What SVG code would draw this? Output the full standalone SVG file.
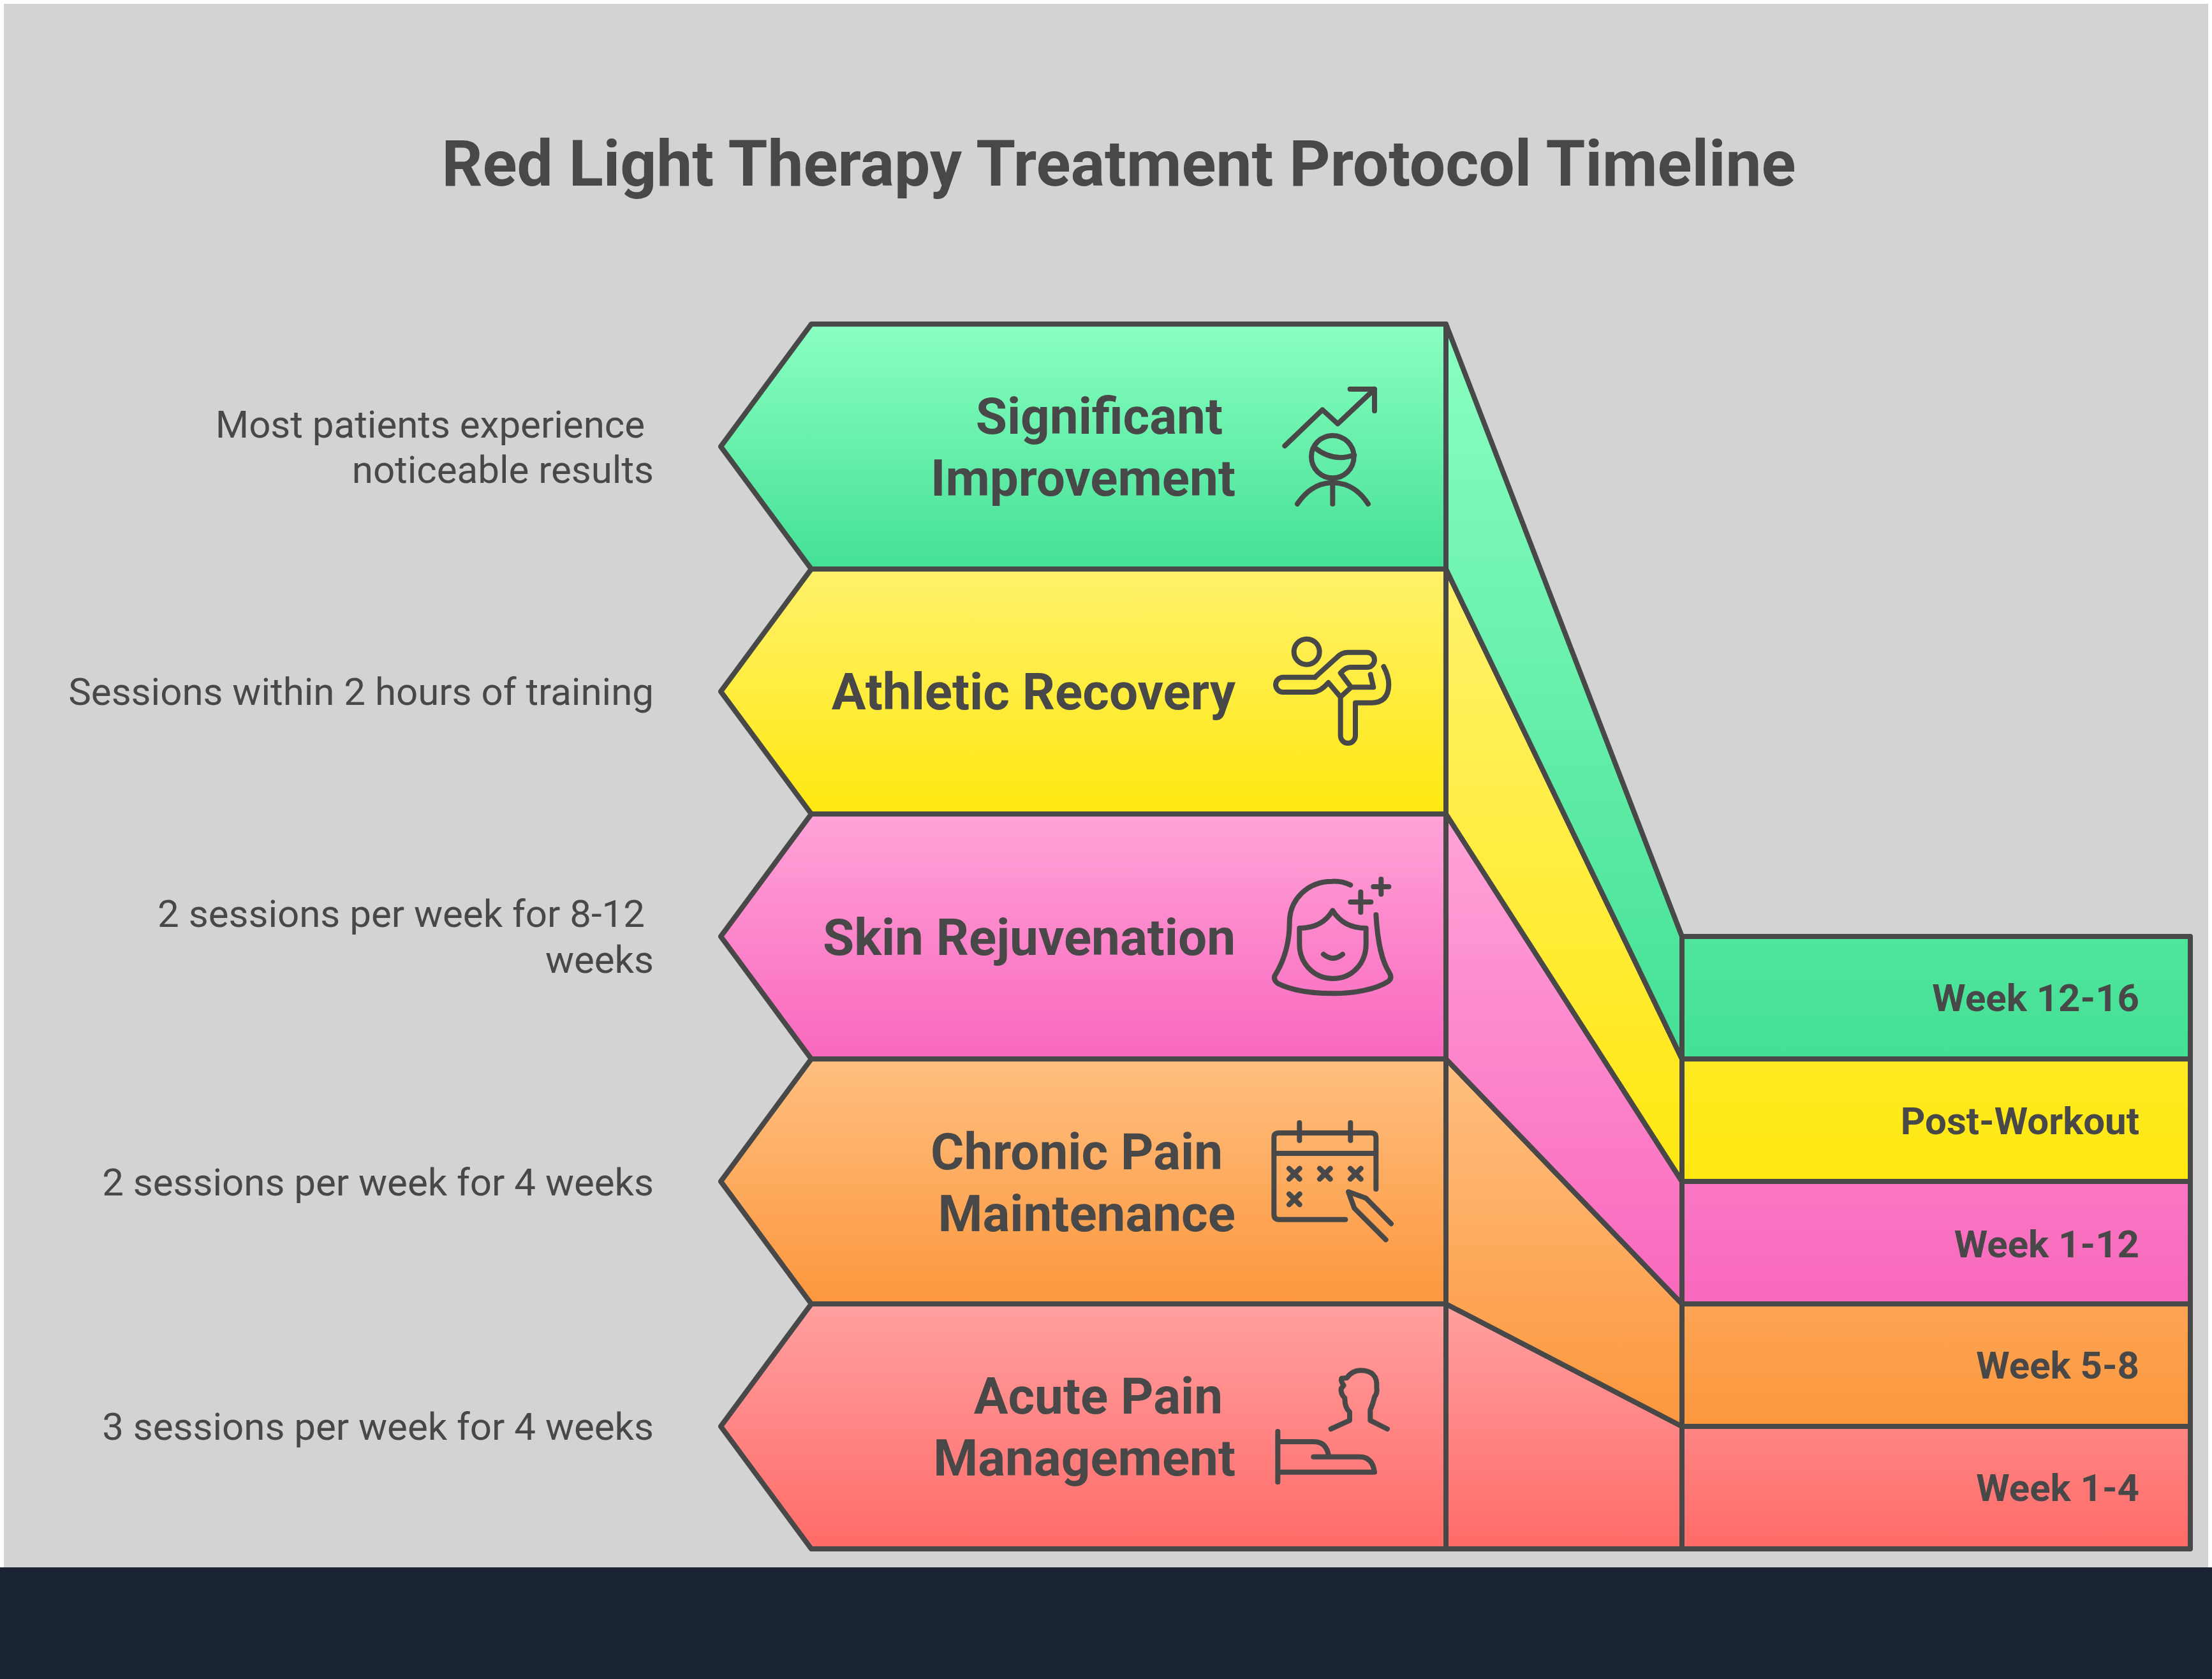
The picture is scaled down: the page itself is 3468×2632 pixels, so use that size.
<svg xmlns="http://www.w3.org/2000/svg" width="3468" height="2632" viewBox="0 0 3468 2632">
<style>
.s{stroke:#484848;stroke-width:8;stroke-linejoin:round}
.i{fill:none;stroke:#484848;stroke-width:24;stroke-linecap:round;stroke-linejoin:round}
text{font-family:Roboto,"Liberation Sans",sans-serif;fill:#484848;text-anchor:end}
.t{font-size:100px;font-weight:700;text-anchor:middle}
.l{font-size:80px;font-weight:700}
.d{font-size:60px}
.w{font-size:60px;font-weight:700}
</style>
<defs>
<linearGradient id="g1" gradientUnits="userSpaceOnUse" x1="0" y1="508" x2="0" y2="892"><stop offset="0" stop-color="#8AFFC1"/><stop offset="1" stop-color="#44E095"/></linearGradient>
<linearGradient id="g2" gradientUnits="userSpaceOnUse" x1="0" y1="892" x2="0" y2="1276"><stop offset="0" stop-color="#FFF16B"/><stop offset="1" stop-color="#FFE810"/></linearGradient>
<linearGradient id="g3" gradientUnits="userSpaceOnUse" x1="0" y1="1276" x2="0" y2="1660"><stop offset="0" stop-color="#FFA3D8"/><stop offset="1" stop-color="#F968BD"/></linearGradient>
<linearGradient id="g4" gradientUnits="userSpaceOnUse" x1="0" y1="1660" x2="0" y2="2044"><stop offset="0" stop-color="#FFBF80"/><stop offset="1" stop-color="#FC973D"/></linearGradient>
<linearGradient id="g5" gradientUnits="userSpaceOnUse" x1="0" y1="2044" x2="0" y2="2428"><stop offset="0" stop-color="#FFA0A0"/><stop offset="1" stop-color="#FF6B68"/></linearGradient>
<linearGradient id="b1" gradientUnits="userSpaceOnUse" x1="0" y1="508" x2="0" y2="1660"><stop offset="0" stop-color="#8AFFC1"/><stop offset="1" stop-color="#44E095"/></linearGradient>
<linearGradient id="b2" gradientUnits="userSpaceOnUse" x1="0" y1="892" x2="0" y2="1852"><stop offset="0" stop-color="#FFF16B"/><stop offset="1" stop-color="#FFE810"/></linearGradient>
<linearGradient id="b3" gradientUnits="userSpaceOnUse" x1="0" y1="1276" x2="0" y2="2044"><stop offset="0" stop-color="#FFA3D8"/><stop offset="1" stop-color="#F968BD"/></linearGradient>
<linearGradient id="b4" gradientUnits="userSpaceOnUse" x1="0" y1="1660" x2="0" y2="2236"><stop offset="0" stop-color="#FFBF80"/><stop offset="1" stop-color="#FC973D"/></linearGradient>
<linearGradient id="b5" gradientUnits="userSpaceOnUse" x1="0" y1="2044" x2="0" y2="2428"><stop offset="0" stop-color="#FFA0A0"/><stop offset="1" stop-color="#FF6B68"/></linearGradient>
</defs>
<rect width="3468" height="2632" fill="#FFFFFF"/>
<rect x="6" y="6" width="3456" height="2452" fill="#D3D3D3"/>
<rect x="0" y="2457" width="3468" height="175" fill="#1A2332"/>
<text class="t" x="1754" y="291">Red Light Therapy Treatment Protocol Timeline</text>

<g id="connectors">
<path class="s" fill="url(#b5)" d="M2267 2044L2637 2236H3434V2428H2267Z"/>
<path class="s" fill="url(#b4)" d="M2267 1660L2637 2044H3434V2236H2637L2267 2044Z"/>
<path class="s" fill="url(#b3)" d="M2267 1276L2637 1852H3434V2044H2637L2267 1660Z"/>
<path class="s" fill="url(#b2)" d="M2267 892L2637 1660H3434V1852H2637L2267 1276Z"/>
<path class="s" fill="url(#b1)" d="M2267 508L2637 1468H3434V1660H2637L2267 892Z"/>
<path class="s" fill="none" d="M2637 1468V2428"/>
</g>

<g id="node-acute">
<path class="s" fill="url(#g5)" d="M1272 2044H2267V2428H1272L1130 2236Z"/>
<text class="l" x="1917" y="2216">Acute Pain</text>
<text class="l" x="1937" y="2313">Management</text>
<g class="i" transform="translate(1960 2120) scale(.3333)"><path d="M380 360L468 320V280Q445 260 445 215Q425 195 428 170L440 155Q425 135 430 122L455 120Q480 85 520 85C570 85 600 110 595 165Q600 190 585 210Q575 250 565 270V320L645 360"/><path d="M130 372V610M130 420H300Q360 420 370 490M298 491H515Q575 491 585 563H130"/></g>
<text class="d" x="1025" y="2257">3 sessions per week for 4 weeks</text>
<text class="w" x="3354" y="2353">Week 1-4</text>
</g>

<g id="node-chronic">
<path class="s" fill="url(#g4)" d="M1272 1660H2267V2044H1272L1130 1852Z"/>
<text class="l" x="1917" y="1833">Chronic Pain</text>
<text class="l" x="1937" y="1930">Maintenance</text>
<g class="i" transform="translate(1960 1740) scale(.3333)"><path d="M448 515H135Q112 515 112 490V130Q112 108 135 108H570Q592 108 592 130V372M112 204H592M232 60V143M472 60V143"/><path d="M183 275L233 325M233 275L183 325M327 275L377 325M377 275L327 325M471 275L521 325M521 275L471 325M183 395L233 445M233 395L183 445"/><path d="M663 535L545 415L462 385L490 462L638 610"/></g>
<text class="d" x="1025" y="1874">2 sessions per week for 4 weeks</text>
<text class="w" x="3354" y="2161">Week 5-8</text>
</g>

<g id="node-skin">
<path class="s" fill="url(#g3)" d="M1272 1276H2267V1660H1272L1130 1468Z"/>
<text class="l" x="1937" y="1497">Skin Rejuvenation</text>
<g class="i" transform="translate(1960 1350) scale(.3333)"><path d="M472 112Q430 92 385 95C270 95 185 180 185 290C185 380 165 460 115 540Q110 560 130 575C200 610 300 622 390 622C480 622 590 605 650 565Q670 550 655 525C620 470 600 390 592 252"/><path d="M232 315Q340 315 388 232Q440 315 545 315V390C545 480 480 552 390 552C300 552 232 480 232 390Z"/><path d="M345 438Q390 475 435 438M472 192H568M520 145V240M580 120H652M616 85V155"/></g>
<text class="d" x="1011" y="1453">2 sessions per week for 8-12</text>
<text class="d" x="1025" y="1525">weeks</text>
<text class="w" x="3354" y="1971">Week 1-12</text>
</g>

<g id="node-athletic">
<path class="s" fill="url(#g2)" d="M1272 892H2267V1276H1272L1130 1084Z"/>
<text class="l" x="1937" y="1112">Athletic Recovery</text>
<g class="i" transform="translate(1960 970) scale(.3333)"><circle cx="266" cy="155" r="60"/><path d="M305 275H155A35 35 0 0 0 155 345H290Q330 345 368 300L425 368V550A35 35 0 0 0 495 550V395H570Q650 395 652 310Q652 270 628 225"/><path d="M305 275L410 180Q430 158 460 158H550A35 35 0 0 1 550 228H470Q450 228 425 255L475 322H580L566 262M425 368L475 322"/></g>
<text class="d" x="1025" y="1105">Sessions within 2 hours of training</text>
<text class="w" x="3354" y="1778">Post-Workout</text>
</g>

<g id="node-significant">
<path class="s" fill="url(#g1)" d="M1272 508H2267V892H1272L1130 700Z"/>
<text class="l" x="1917" y="680">Significant</text>
<text class="l" x="1937" y="777">Improvement</text>
<g class="i" transform="translate(1960 570) scale(.3333)"><path d="M163 387L340 217L412 283L585 120M470 120H585V222"/><circle cx="388" cy="438" r="100"/><path d="M303 395Q390 465 490 430M222 660Q290 560 388 560Q490 560 555 660M388 560V660"/></g>
<text class="d" x="1011" y="686">Most patients experience</text>
<text class="d" x="1025" y="757">noticeable results</text>
<text class="w" x="3354" y="1585">Week 12-16</text>
</g>
</svg>
